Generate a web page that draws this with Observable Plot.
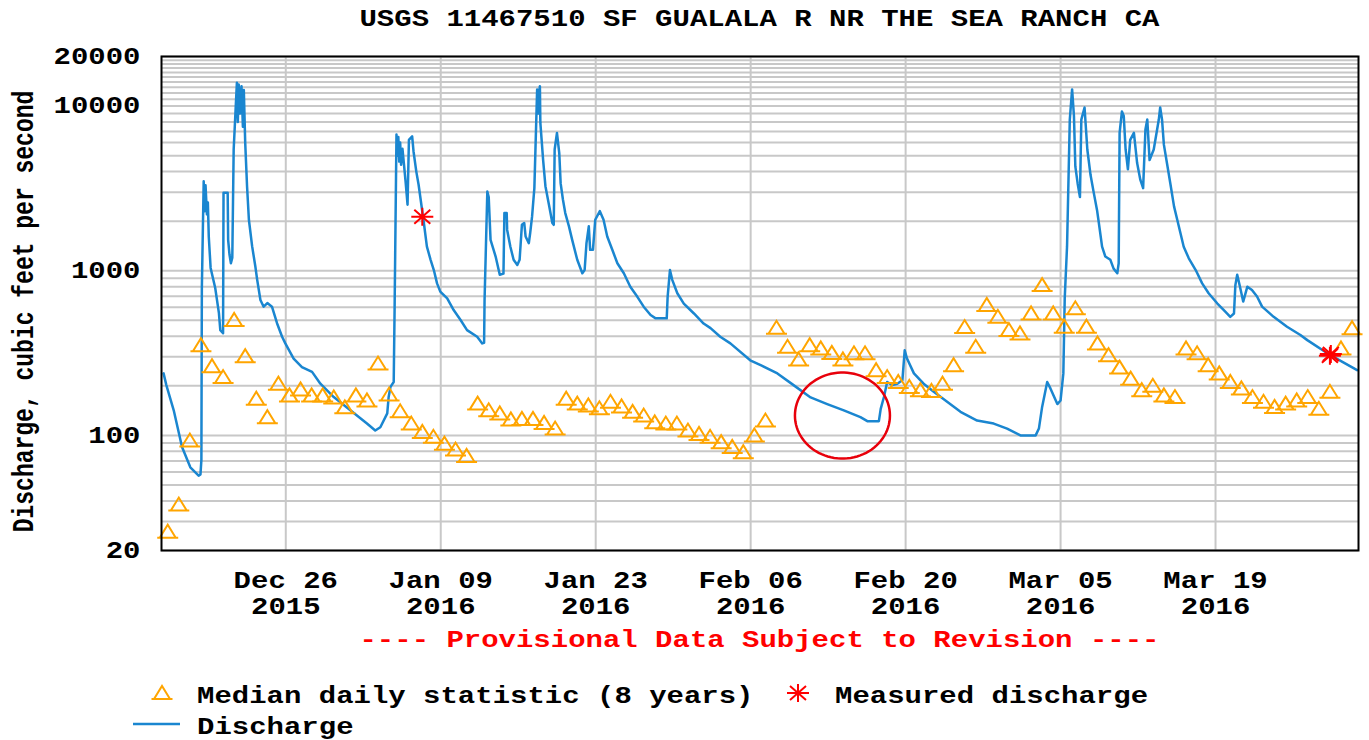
<!DOCTYPE html>
<html>
<head>
<meta charset="utf-8">
<script src="https://cdn.jsdelivr.net/npm/d3@7"></script>
<script src="https://cdn.jsdelivr.net/npm/@observablehq/plot@0.6"></script>
<style>
html,body{margin:0;padding:0;background:#fff;}
body{width:1369px;height:740px;position:relative;overflow:hidden;font-family:"Liberation Mono",monospace;font-weight:bold;font-size:23px;color:#000;}
.title{position:absolute;left:161px;width:1197px;top:0;height:40px;line-height:40px;text-align:center;white-space:pre;}
.sx{display:inline-block;transform:scaleX(1.26);transform-origin:center;}
#chart{position:absolute;left:0;top:40px;}
.caption{position:absolute;left:161px;width:1197px;top:620px;height:42px;line-height:42px;text-align:center;color:#ff0000;white-space:pre;}
.lg{position:absolute;line-height:32px;white-space:pre;transform:scaleX(1.26);transform-origin:left center;}
.ic{position:absolute;overflow:visible;}
</style>
</head>
<body>
<div class="title"><span class="sx">USGS 11467510 SF GUALALA R NR THE SEA RANCH CA</span></div>
<div id="chart"></div>
<div class="caption"><span class="sx">---- Provisional Data Subject to Revision ----</span></div>
<svg class="ic" style="left:150px;top:681px" width="24" height="24"><path d="M1.5,18L22.5,18M4,18L12,5L20,18" fill="none" stroke="#ffa500" stroke-width="2"/></svg>
<div class="lg" style="left:197px;top:681px">Median daily statistic (8 years)</div>
<svg class="ic" style="left:786px;top:681px" width="24" height="24"><path d="M1,12L23,12M12,3L12,21M4,5L20,19M4,19L20,5" fill="none" stroke="#ff0000" stroke-width="2"/></svg>
<div class="lg" style="left:835px;top:681px">Measured discharge</div>
<svg class="ic" style="left:133px;top:714px" width="48" height="20"><path d="M0,10L47,10" stroke="#1a86d0" stroke-width="2.5"/></svg>
<div class="lg" style="left:197px;top:712px">Discharge</div>
<script>
// ---------- data ----------
const dischargeTime = [
"2015-12-14 23:00","2015-12-15 05:00","2015-12-15 21:00","2015-12-16 15:00","2015-12-17 09:00","2015-12-18 03:00","2015-12-18 07:00","2015-12-18 09:00","2015-12-18 10:00","2015-12-18 14:00",
"2015-12-18 16:00","2015-12-18 18:00","2015-12-18 21:00","2015-12-18 23:00","2015-12-19 01:00","2015-12-19 05:00","2015-12-19 15:00","2015-12-19 23:00","2015-12-20 02:00","2015-12-20 08:00",
"2015-12-20 09:00","2015-12-20 18:00","2015-12-20 19:00","2015-12-20 22:00","2015-12-21 01:00","2015-12-21 04:00","2015-12-21 07:00","2015-12-21 14:00","2015-12-21 16:00","2015-12-21 18:00",
"2015-12-21 21:00","2015-12-22 00:00","2015-12-22 03:00","2015-12-22 05:00","2015-12-22 08:00","2015-12-22 12:00","2015-12-22 16:00","2015-12-22 23:00","2015-12-23 06:00","2015-12-23 10:00",
"2015-12-23 17:00","2015-12-24 00:00","2015-12-24 08:00","2015-12-24 18:00","2015-12-25 05:00","2015-12-25 16:00","2015-12-25 23:00","2015-12-26 17:00","2015-12-27 11:00","2015-12-28 09:00",
"2015-12-29 03:00","2015-12-30 08:00","2015-12-31 20:00","2016-01-02 08:00","2016-01-03 02:00","2016-01-03 13:00","2016-01-04 04:00","2016-01-04 07:00","2016-01-04 11:00","2016-01-04 18:00",
"2016-01-04 20:00","2016-01-05 00:00","2016-01-05 02:00","2016-01-05 04:00","2016-01-05 06:00","2016-01-05 08:00","2016-01-05 10:00","2016-01-05 13:00","2016-01-05 16:00","2016-01-05 20:00",
"2016-01-06 00:00","2016-01-06 03:00","2016-01-06 10:00","2016-01-06 13:00","2016-01-06 19:00","2016-01-07 00:00","2016-01-07 11:00","2016-01-07 18:00","2016-01-08 02:00","2016-01-08 09:00",
"2016-01-08 16:00","2016-01-08 23:00","2016-01-09 14:00","2016-01-10 04:00","2016-01-10 19:00","2016-01-11 09:00","2016-01-12 07:00","2016-01-12 18:00","2016-01-12 22:00","2016-01-12 23:00",
"2016-01-13 05:00","2016-01-13 08:00","2016-01-13 12:00","2016-01-13 23:00","2016-01-14 08:00","2016-01-14 16:00","2016-01-14 18:00","2016-01-14 23:00","2016-01-15 00:00","2016-01-15 07:00",
"2016-01-15 14:00","2016-01-15 22:00","2016-01-16 03:00","2016-01-16 08:00","2016-01-16 13:00","2016-01-16 16:00","2016-01-16 23:00","2016-01-17 02:00","2016-01-17 06:00","2016-01-17 11:00",
"2016-01-17 17:00","2016-01-17 19:00","2016-01-17 21:00","2016-01-17 23:00","2016-01-18 00:00","2016-01-18 06:00","2016-01-18 11:00","2016-01-18 18:00","2016-01-19 02:00","2016-01-19 05:00",
"2016-01-19 07:00","2016-01-19 12:00","2016-01-19 17:00","2016-01-19 20:00","2016-01-20 01:00","2016-01-20 06:00","2016-01-20 14:00","2016-01-20 21:00","2016-01-21 08:00","2016-01-21 19:00",
"2016-01-22 00:00","2016-01-22 04:00","2016-01-22 09:00","2016-01-22 12:00","2016-01-22 18:00","2016-01-22 23:00","2016-01-23 09:00","2016-01-23 17:00","2016-01-24 01:00","2016-01-24 12:00",
"2016-01-24 23:00","2016-01-25 13:00","2016-01-26 03:00","2016-01-26 18:00","2016-01-27 08:00","2016-01-27 23:00","2016-01-28 10:00","2016-01-29 10:00","2016-01-29 12:00","2016-01-29 17:00",
"2016-01-29 22:00","2016-01-30 09:00","2016-01-30 23:00","2016-01-31 21:00","2016-02-01 18:00","2016-02-02 09:00","2016-02-03 06:00","2016-02-04 04:00","2016-02-05 23:00","2016-02-07 00:00",
"2016-02-08 10:00","2016-02-09 21:00","2016-02-11 10:00","2016-02-12 22:00","2016-02-14 10:00","2016-02-15 22:00","2016-02-16 13:00","2016-02-17 14:00","2016-02-17 18:00","2016-02-18 01:00",
"2016-02-18 08:00","2016-02-18 19:00","2016-02-19 06:00","2016-02-19 17:00","2016-02-19 22:00","2016-02-20 03:00","2016-02-20 18:00","2016-02-21 15:00","2016-02-22 13:00","2016-02-23 18:00",
"2016-02-24 23:00","2016-02-26 11:00","2016-02-27 23:00","2016-02-29 04:00","2016-03-01 09:00","2016-03-02 18:00","2016-03-03 01:00","2016-03-03 08:00","2016-03-03 19:00","2016-03-04 02:00",
"2016-03-04 17:00","2016-03-05 00:00","2016-03-05 06:00","2016-03-05 09:00","2016-03-05 14:00","2016-03-05 20:00","2016-03-06 01:00","2016-03-06 05:00","2016-03-06 08:00","2016-03-06 13:00",
"2016-03-06 18:00","2016-03-06 21:00","2016-03-07 04:00","2016-03-07 10:00","2016-03-07 17:00","2016-03-08 00:00","2016-03-08 07:00","2016-03-08 11:00","2016-03-08 18:00","2016-03-09 01:00",
"2016-03-09 12:00","2016-03-09 19:00","2016-03-10 03:00","2016-03-10 06:00","2016-03-10 08:00","2016-03-10 13:00","2016-03-10 17:00","2016-03-10 21:00","2016-03-11 02:00","2016-03-11 07:00",
"2016-03-11 15:00","2016-03-11 22:00","2016-03-12 05:00","2016-03-12 11:00","2016-03-12 16:00","2016-03-12 20:00","2016-03-13 01:00","2016-03-13 10:00","2016-03-13 21:00","2016-03-14 00:00",
"2016-03-14 04:00","2016-03-14 08:00","2016-03-14 15:00","2016-03-14 22:00","2016-03-15 06:00","2016-03-15 13:00","2016-03-15 20:00","2016-03-16 03:00","2016-03-16 14:00","2016-03-17 05:00",
"2016-03-17 19:00","2016-03-18 09:00","2016-03-19 04:00","2016-03-19 18:00","2016-03-20 08:00","2016-03-20 16:00","2016-03-20 19:00","2016-03-20 23:00","2016-03-21 05:00","2016-03-21 12:00",
"2016-03-21 21:00","2016-03-22 07:00","2016-03-22 18:00","2016-03-23 05:00","2016-03-24 06:00","2016-03-25 11:00","2016-03-26 16:00","2016-03-27 07:00","2016-03-29 09:00","2016-03-31 19:00"
];
const dischargeCfs = [
238,202,142,85,64,57,58,71,785,3490,
2300,3300,2200,2600,1615,1040,785,553,436,417,
2980,2980,1540,1250,1110,1200,5450,13870,8000,13500,
9000,13200,7500,12500,6000,3260,2040,1410,1060,880,
664,605,636,605,480,397,362,293,260,243,
206,171,142,118,107,112,136,171,197,211,
605,6710,5000,6500,4600,6000,4400,5500,4500,3420,
2520,6230,6550,5300,4000,3330,1990,1400,1165,1010,
838,747,680,577,502,436,397,362,365,664,
3030,2800,1540,1220,945,960,2240,2240,1770,1400,
1165,1085,1165,1900,1950,1615,1470,1700,2130,3175,
12620,9000,12000,13200,7900,4700,3260,2570,1950,1900,
5450,6870,5180,3390,2700,2240,1860,1540,1165,966,
1010,1470,1860,1340,1340,2040,2300,2040,1615,1340,
1110,966,800,697,605,538,514,514,697,1010,
880,730,632,550,478,448,397,362,286,265,
238,202,170,155,142,129,122,122,145,171,
211,202,206,216,329,293,238,206,184,160,
139,123,118,110,100,100,110,149,211,193,
155,163,238,680,1400,8280,12620,8700,4300,3390,
2800,8280,9800,5450,3810,2970,2340,1950,1400,1220,
1165,1030,966,1110,6870,9260,8700,5450,4130,6230,
6870,4510,3560,3175,7200,8280,4700,5450,8280,9800,
8280,5830,4450,3390,2460,2040,1690,1400,1190,1010,
838,730,632,577,525,550,818,945,800,650,
800,763,697,605,525,457,407,379,307,249
];
const medianDate = [
"2015-12-15","2015-12-16","2015-12-17","2015-12-18","2015-12-19","2015-12-20","2015-12-21","2015-12-22","2015-12-23","2015-12-24",
"2015-12-25","2015-12-26","2015-12-27","2015-12-28","2015-12-29","2015-12-30","2015-12-31","2016-01-01","2016-01-02","2016-01-03",
"2016-01-04","2016-01-05","2016-01-06","2016-01-07","2016-01-08","2016-01-09","2016-01-10","2016-01-11","2016-01-12","2016-01-13",
"2016-01-14","2016-01-15","2016-01-16","2016-01-17","2016-01-18","2016-01-19","2016-01-20","2016-01-21","2016-01-22","2016-01-23",
"2016-01-24","2016-01-25","2016-01-26","2016-01-27","2016-01-28","2016-01-29","2016-01-30","2016-01-31","2016-02-01","2016-02-02",
"2016-02-03","2016-02-04","2016-02-05","2016-02-06","2016-02-07","2016-02-08","2016-02-09","2016-02-10","2016-02-11","2016-02-12",
"2016-02-13","2016-02-14","2016-02-15","2016-02-16","2016-02-17","2016-02-18","2016-02-19","2016-02-20","2016-02-21","2016-02-22",
"2016-02-23","2016-02-24","2016-02-25","2016-02-26","2016-02-27","2016-02-28","2016-02-29","2016-03-01","2016-03-02","2016-03-03",
"2016-03-04","2016-03-05","2016-03-06","2016-03-07","2016-03-08","2016-03-09","2016-03-10","2016-03-11","2016-03-12","2016-03-13",
"2016-03-14","2016-03-15","2016-03-16","2016-03-17","2016-03-18","2016-03-19","2016-03-20","2016-03-21","2016-03-22","2016-03-23",
"2016-03-24","2016-03-25","2016-03-26","2016-03-27","2016-03-28","2016-03-29","2016-03-30","2016-03-31"
];
const medianCfs = [
26,38,93,353,263,226,502,303,167,129,
206,175,190,175,175,170,148,175,163,273,
177,140,118,105,98,89,82,75,156,142,
136,125,126,126,119,110,167,156,152,146,
160,150,139,132,120,118,118,107,102,98,
91,85,79,100,123,450,345,289,353,337,
317,289,315,315,249,226,211,197,188,186,
206,267,455,345,620,525,436,416,550,818,
550,457,591,457,362,307,258,221,188,200,
175,171,337,315,267,238,211,193,171,160,
149,156,163,171,145,184,337,448
];
const measuredTime = ["2016-01-07 08:00","2016-03-29 08:00","2016-03-29 10:00"];
const measuredCfs = [2130,305,312];
const annotationTime = ["2016-02-14 07:00"];
const annotationCfs = [132];
const xTickDates = ["2015-12-26","2016-01-09","2016-01-23","2016-02-06","2016-02-20","2016-03-05","2016-03-19"];
const yTickLabels = [20,100,1000,10000,20000];
const yGridValues = [20,30,40,50,60,70,80,90,100,200,300,400,500,600,700,800,900,1000,2000,3000,4000,5000,6000,7000,8000,9000,
  10000,11000,12000,13000,14000,15000,16000,17000,18000,19000,20000];
const yLabel = "Discharge, cubic feet per second";

// ---------- build ----------
const parseT = d3.utcParse("%Y-%m-%d %H:%M");
const discharge = dischargeTime.map((t, i) => ({t: parseT(t), v: dischargeCfs[i]}));
const medians = medianDate.map((d, i) => ({t: parseT(d + " 08:00"), v: medianCfs[i]}));
const measured = measuredTime.map((t, i) => ({t: parseT(t), v: measuredCfs[i]}));
const annotation = annotationTime.map((t, i) => ({t: parseT(t), v: annotationCfs[i]}));
const xTicks = xTickDates.map(d => parseT(d + " 00:00"));
const fmt = d3.utcFormat("%b %d\n%Y");

const triangleSym = {draw(ctx) { ctx.moveTo(-10.5, 6); ctx.lineTo(10.5, 6); ctx.moveTo(-8, 6); ctx.lineTo(0, -7); ctx.lineTo(8, 6); }};
const asteriskSym = {draw(ctx) {
  ctx.moveTo(-11, 0); ctx.lineTo(11, 0); ctx.moveTo(0, -9); ctx.lineTo(0, 9);
  ctx.moveTo(-8, -7); ctx.lineTo(8, 7); ctx.moveTo(-8, 7); ctx.lineTo(8, -7);
}};
const ellipseSym = {draw(ctx) {
  const rx = 47.5, ry = 43, n = 90;
  ctx.moveTo(rx, 0);
  for (let k = 1; k <= n; k++) { const a = k / n * 2 * Math.PI; ctx.lineTo(rx * Math.cos(a), ry * Math.sin(a)); }
  ctx.closePath();
}};

const chart = Plot.plot({
  width: 1369, height: 580,
  marginLeft: 161, marginRight: 11, marginTop: 16, marginBottom: 70,
  style: {fontFamily: '"Liberation Mono", monospace', fontWeight: "bold", fontSize: "23px", color: "#000", background: "transparent", overflow: "visible"},
  x: {type: "utc", domain: [parseT("2015-12-14 18:30"), parseT("2016-03-31 22:00")], label: null},
  y: {type: "log", domain: [20, 20000], label: null},
  marks: [
    Plot.ruleY(yGridValues, {stroke: "#c8c8c8", strokeWidth: 2}),
    Plot.ruleX(xTicks, {stroke: "#c8c8c8", strokeWidth: 2}),
    Plot.line(discharge, {x: "t", y: "v", stroke: "#1a86d0", strokeWidth: 2.5}),
    Plot.dot(medians, {x: "t", y: "v", symbol: triangleSym, stroke: "#ffa500", strokeWidth: 2, fill: "none"}),
    Plot.dot(measured, {x: "t", y: "v", symbol: asteriskSym, stroke: "#ff0000", strokeWidth: 2}),
    Plot.dot(annotation, {x: "t", y: "v", symbol: ellipseSym, stroke: "#e8000b", strokeWidth: 2.5, fill: "none"}),
    Plot.frame({stroke: "#000", strokeWidth: 2}),
    Plot.axisX(xTicks, {tickSize: 0, tickPadding: 19, tickFormat: d => fmt(d), lineHeight: 1.13, label: null}),
    Plot.axisY(yTickLabels, {tickSize: 0, tickPadding: 21, tickFormat: d => String(d), label: null}),
    Plot.text([yLabel], {frameAnchor: "left", textAnchor: "middle", rotate: -90, dx: -138, dy: 8, text: d => d})
  ]
});

// widen glyphs horizontally (screen space) to match the reference's stretched bitmap font
const SX = 1.26;
chart.querySelectorAll("text").forEach(el => {
  const t = el.getAttribute("transform");
  if (t && /^translate\([^)]*\)/.test(t)) {
    el.setAttribute("transform", t.replace(/^translate\([^)]*\)/, m => m + ` scale(${SX},1)`));
  } else {
    const x = parseFloat(el.getAttribute("x") || "0");
    el.removeAttribute("x");
    el.setAttribute("transform", `${t || ""} translate(${x},0) scale(${SX},1)`);
  }
});
document.getElementById("chart").appendChild(chart);
</script>
</body>
</html>
